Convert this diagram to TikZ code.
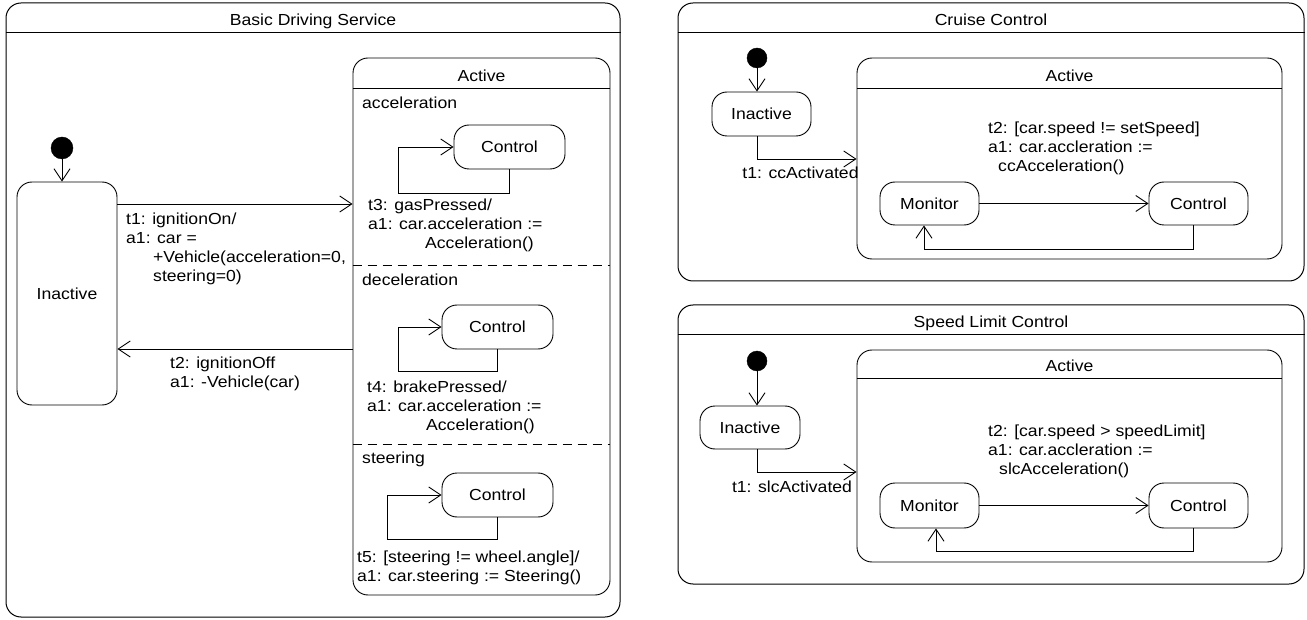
\documentclass[tikz,border=0pt]{standalone}
\usepackage{fontspec}
\setmainfont{Liberation Sans}[FakeStretch=1.1]
\usetikzlibrary{arrows.meta}
\begin{document}
\begin{tikzpicture}[x=1pt,y=-1pt,
  every node/.style={font=\fontsize{16}{19}\selectfont, inner sep=0pt},
  panel/.style={draw, rounded corners=15pt, line width=1pt},
  st/.style={draw, rounded corners=15pt, line width=0.9pt},
  dot/.style={circle, draw, fill=black, inner sep=0pt},
  title/.style={anchor=base},
  cmp/.style={anchor=base west},
  lbl/.style={anchor=north west, align=left},
  tr/.style={line width=0.9pt, -{Straight Barb[length=12pt,width=16pt,line width=0.9pt]}},
  sep/.style={line width=0.9pt},
  dsep/.style={line width=0.9pt, dash pattern=on 9pt off 6pt}
]
\useasboundingbox (0,0) rectangle (1307,620);

% ---------------- Basic Driving Service ----------------
\node[panel, minimum width=614pt, minimum height=614pt] (bds) at (313,310) {};
\node[title] (bdsT) at (313,25.5) {Basic Driving Service};
\draw[sep] (bds.west |- 0,32) -- (bds.east |- 0,32);

\node[dot, minimum size=22pt] (iL) at (62,148) {};
\node[st, minimum width=100pt, minimum height=223pt] (inL) at (67,293.5) {Inactive};
\draw[tr] (iL) -- (iL |- inL.north);

\node[st, minimum width=257pt, minimum height=537pt] (actL) at (481.5,326.5) {};
\node[title] (actLT) at (481.5,81.5) {Active};
\draw[sep] (actL.west |- 0,88) -- (actL.east |- 0,88);

\draw[tr] (inL.east |- 0,204) -- (actL.west |- 0,204);
\node[lbl] (t1L) at (126,213) {t1: ignitionOn/\\a1: car =\\\hspace*{27pt}+Vehicle(acceleration=0,\\\hspace*{27pt}steering=0)};
\draw[tr] (actL.west |- 0,349) -- (inL.east |- 0,349);
\node[lbl] (t2L) at (170,357) {t2: ignitionOff\\a1: -Vehicle(car)};

% acceleration
\node[cmp] (accL) at (362,108.5) {acceleration};
\node[st, minimum width=111pt, minimum height=44pt] (c1) at (509.5,147) {Control};
\coordinate (l1) at (398,193);
\draw[tr] (c1.south) |- (l1) |- (c1.west);
\node[lbl] (t3) at (368,199) {t3: gasPressed/\\a1: car.acceleration :=\\\hspace*{57pt}Acceleration()};
\draw[dsep] (actL.west |- 0,265) -- (actL.east |- 0,265);

% deceleration
\node[cmp] (decL) at (362,285.5) {deceleration};
\node[st, minimum width=111pt, minimum height=44pt] (c2) at (497.5,327) {Control};
\coordinate (l2) at (398,371);
\draw[tr] (c2.south) |- (l2) |- (c2.west);
\node[lbl] (t4) at (367,381) {t4: brakePressed/\\a1: car.acceleration :=\\\hspace*{59pt}Acceleration()};
\draw[dsep] (actL.west |- 0,444) -- (actL.east |- 0,444);

% steering
\node[cmp] (strL) at (362,463.5) {steering};
\node[st, minimum width=111pt, minimum height=44pt] (c3) at (497.5,495) {Control};
\coordinate (l3) at (387,539);
\draw[tr] (c3.south) |- (l3) |- (c3.west);
\node[lbl] (t5) at (357,551) {t5: [steering != wheel.angle]/\\a1: car.steering := Steering()};

% ---------------- Cruise Control ----------------
\node[panel, minimum width=626pt, minimum height=278pt] (cc) at (991,142) {};
\node[title] (ccT) at (991,25.5) {Cruise Control};
\draw[sep] (cc.west |- 0,32) -- (cc.east |- 0,32);

\node[dot, minimum size=20pt] (iC) at (757,58) {};
\node[st, minimum width=99pt, minimum height=44pt] (inC) at (761.5,114) {Inactive};
\draw[tr] (iC) -- (iC |- inC.north);

\node[st, minimum width=425pt, minimum height=201pt] (actC) at (1069.5,158.5) {};
\node[title] (actCT) at (1069.5,81.5) {Active};
\draw[sep] (actC.west |- 0,88) -- (actC.east |- 0,88);

\draw[tr] (iC |- inC.south) |- (actC.west |- 0,159);
\node[title] (t1C) at (800.5,178.5) {t1: ccActivated};
\node[lbl] (t2C) at (988,122) {t2: [car.speed != setSpeed]\\a1: car.accleration :=\\\hspace*{10pt}ccAcceleration()};

\node[st, minimum width=99pt, minimum height=43pt] (monC) at (929.5,203.5) {Monitor};
\node[st, minimum width=99pt, minimum height=43pt] (ctlC) at (1198.5,203.5) {Control};
\draw[tr] (monC) -- (ctlC);
\coordinate (rC1) at (1193,249);
\coordinate (rC2) at (924,249);
\draw[tr] (rC1 |- ctlC.south) -- (rC1) -- (rC2) -- (rC2 |- monC.south);

% ---------------- Speed Limit Control ----------------
\node[panel, minimum width=626pt, minimum height=279pt] (sl) at (991,444.5) {};
\node[title] (slT) at (991,327.5) {Speed Limit Control};
\draw[sep] (sl.west |- 0,334) -- (sl.east |- 0,334);

\node[dot, minimum size=20pt] (iS) at (757,361) {};
\node[st, minimum width=100pt, minimum height=43pt] (inS) at (750,427.5) {Inactive};
\draw[tr] (iS) -- (iS |- inS.north);

\node[st, minimum width=425pt, minimum height=212pt] (actS) at (1069.5,456) {};
\node[title] (actST) at (1069.5,371.5) {Active};
\draw[sep] (actS.west |- 0,378) -- (actS.east |- 0,378);

\draw[tr] (iS |- inS.south) |- (actS.west |- 0,472);
\node[title] (t1S) at (792,492.5) {t1: slcActivated};
\node[lbl] (t2S) at (988,425) {t2: [car.speed > speedLimit]\\a1: car.accleration :=\\\hspace*{11pt}slcAcceleration()};

\node[st, minimum width=99pt, minimum height=45pt] (monS) at (929.5,505.5) {Monitor};
\node[st, minimum width=99pt, minimum height=45pt] (ctlS) at (1198.5,505.5) {Control};
\draw[tr] (monS) -- (ctlS);
\coordinate (rS1) at (1193,551);
\coordinate (rS2) at (936,551);
\draw[tr] (rS1 |- ctlS.south) -- (rS1) -- (rS2) -- (rS2 |- monS.south);

\end{tikzpicture}
\end{document}
